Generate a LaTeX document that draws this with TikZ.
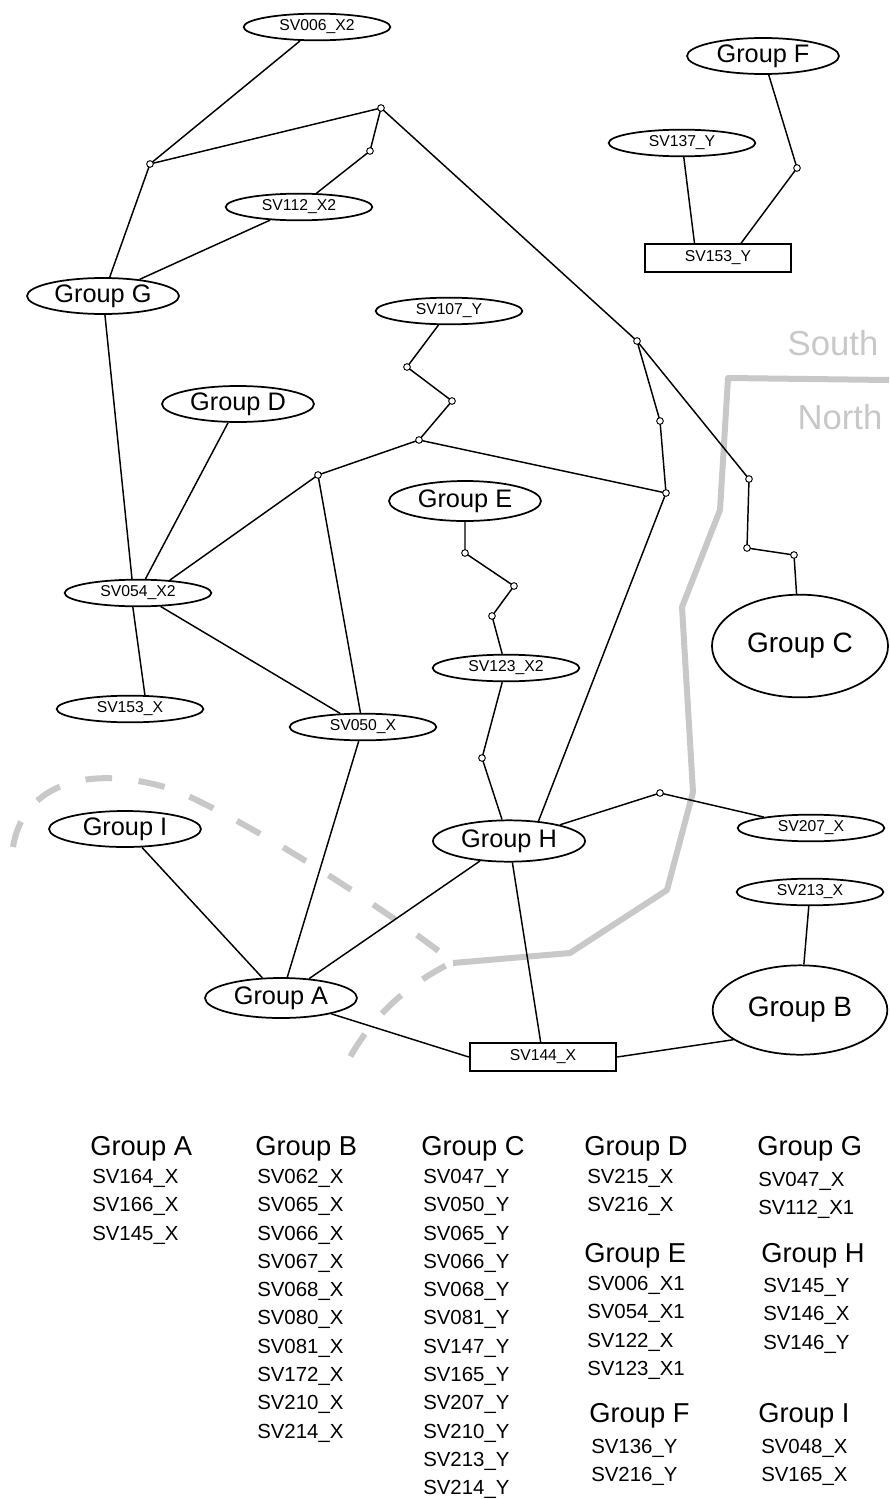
\documentclass[tikz,border=0pt]{standalone}
\usepackage{fontspec}
\setmainfont{Liberation Sans}
\usetikzlibrary{shapes.geometric}

\definecolor{regiongrey}{RGB}{200,200,200}

\begin{document}
\begin{tikzpicture}[
  x=0.75pt, y=-0.75pt,
  sv/.style = {ellipse, draw, line width=1.3pt, minimum width=110pt, minimum height=20pt,
               inner sep=0pt, font=\fontsize{11.8}{13}\selectfont},
  svbox/.style = {rectangle, draw, line width=1.3pt, minimum width=110pt, minimum height=21pt,
                  inner sep=0pt, font=\fontsize{11.8}{13}\selectfont},
  grp/.style = {ellipse, draw, line width=1.3pt, minimum width=114pt, minimum height=27pt,
                inner sep=0pt, font=\fontsize{19}{21}\selectfont},
  biggrp/.style = {grp, font=\fontsize{21}{23}\selectfont},
  link/.style = {line width=1.1pt},
  bendmark/.style = {draw, fill=white, line width=0.7pt},
  region/.style = {line width=4.5pt, regiongrey, line join=round},
  sidelabel/.style = {text=regiongrey, font=\fontsize{26}{28}\selectfont},
  listhead/.style = {anchor=base west, inner sep=0pt, font=\fontsize{20.5}{22}\selectfont},
  listitem/.style = {anchor=base west, inner sep=0pt, font=\fontsize{15.3}{17}\selectfont}
]
  \useasboundingbox (0,0) rectangle (889,1499);

  % north / south border
  \draw[region] (889,380) -- (728,378) -- (720,510) -- (682,607) -- (693,792)
    -- (667,890) -- (570,953) -- (453,963);
  \draw[region, dash pattern=on 20pt off 20pt] (13,847) .. controls (22,790) and (80,760) .. (175,790)
    .. controls (255,825) and (380,905) .. (453,962)
    .. controls (420,978) and (370,1010) .. (340,1077);
  \node[sidelabel] (south) at (833,343) {South};
  \node[sidelabel] (north) at (840,417) {North};

  % nodes
  \node[sv] (sv006) at (317,27) {SV006\_X2};
  \node[sv] (sv112) at (299,207) {SV112\_X2};
  \node[grp] (gG) at (103,296) {Group G};
  \node[grp] (gF) at (763,56) {Group F};
  \node[sv] (sv137) at (682,143) {SV137\_Y};
  \node[svbox] (sv153y) at (718,258) {SV153\_Y};
  \node[sv] (sv107) at (449,311) {SV107\_Y};
  \node[grp] (gD) at (238,404) {Group D};
  \node[grp, minimum height=30pt] (gE) at (465,501) {Group E};
  \node[biggrp, minimum width=132pt, minimum height=77pt] (gC) at (800,646) {Group C};
  \node[sv] (sv054) at (138,593) {SV054\_X2};
  \node[sv] (sv123) at (506,668) {SV123\_X2};
  \node[sv] (sv153x) at (130,709) {SV153\_X};
  \node[sv] (sv050) at (363,727) {SV050\_X};
  \node[sv] (sv207) at (811,828) {SV207\_X};
  \node[grp] (gI) at (125,829) {Group I};
  \node[grp, minimum height=31pt] (gH) at (509,841) {Group H};
  \node[sv] (sv213) at (810,892) {SV213\_X};
  \node[grp, minimum height=30pt] (gA) at (281,998) {Group A};
  \node[biggrp, minimum width=131pt, minimum height=67pt] (gB) at (800,1010) {Group B};
  \node[svbox] (sv144) at (543,1057) {SV144\_X};

  % bends
  \coordinate (j1) at (150,164);
  \coordinate (j2) at (381,108);
  \coordinate (j3) at (370,151);
  \coordinate (j4) at (637,341);
  \coordinate (j5) at (660,421);
  \coordinate (j6) at (666,493);
  \coordinate (j7) at (749,479);
  \coordinate (j8) at (747,548);
  \coordinate (j9) at (794,555);
  \coordinate (j10) at (318,475);
  \coordinate (j11) at (419,440);
  \coordinate (j12) at (452,401);
  \coordinate (j13) at (407,367);
  \coordinate (jE1) at (465,553);
  \coordinate (jE2) at (514,586);
  \coordinate (jE3) at (492,616);
  \coordinate (jH1) at (482,758);
  \coordinate (jH2) at (660,793);
  \coordinate (jF) at (797,168);

  % links
  \draw[link] (sv006) -- (j1) -- (gG);
  \draw[link] (j1) -- (j2) -- (j3) -- (sv112) -- (gG);
  \draw[link] (j2) -- (j4) -- (j5) -- (j6) -- (gH.34);
  \draw[link] (j4) -- (j7) -- (j8) -- (j9) -- (gC);
  \draw[link] (gF) -- (jF) -- ([xshift=73pt]sv153y.north west);
  \draw[link] (sv137) -- ([xshift=38pt]sv153y.north west);
  \draw[link] (gG) -- (sv054.113);
  \draw[link] (sv054.250) -- (sv153x.43);
  \draw[link] (gD) -- (sv054);
  \draw[link] (sv054.22) -- (j10) -- (j11) -- (j12) -- (j13) -- (sv107);
  \draw[link] (j11) -- (j6);
  \draw[link] (j10) -- (sv050);
  \draw[link] (sv054) -- (sv050);
  \draw[link] (sv050) -- (gA);
  \draw[link] (gE) -- (jE1) -- (jE2) -- (jE3) -- (sv123) -- (jH1) -- (gH);
  \draw[link] (gH) -- (jH2) -- (sv207);
  \draw[link] (gH) -- (sv144);
  \draw[link] (gH) -- (gA);
  \draw[link] (gI) -- (gA);
  \draw[link] (gA) -- (sv144.west);
  \draw[link] (sv144.east) -- (gB.204);
  \draw[link] (sv213) -- (gB);

  \foreach \j in {j1,j2,j3,j4,j5,j6,j7,j8,j9,j10,j11,j12,j13,jE1,jE2,jE3,jH1,jH2,jF}
    \draw[bendmark] (\j) circle (2.5pt);

  % group lists
  \node[listhead] (hA) at (90,1155) {Group A};
  \foreach \sv [count=\i] in {SV164\_X,SV166\_X,SV145\_X}
    \node[listitem] (a\i) at (92,1155+28.33*\i) {\sv};

  \node[listhead] (hB) at (255,1155) {Group B};
  \foreach \sv [count=\i] in {SV062\_X,SV065\_X,SV066\_X,SV067\_X,SV068\_X,
                              SV080\_X,SV081\_X,SV172\_X,SV210\_X,SV214\_X}
    \node[listitem] (b\i) at (257,1155+28.33*\i) {\sv};

  \node[listhead] (hC) at (421,1155) {Group C};
  \foreach \sv [count=\i] in {SV047\_Y,SV050\_Y,SV065\_Y,SV066\_Y,SV068\_Y,SV081\_Y,
                              SV147\_Y,SV165\_Y,SV207\_Y,SV210\_Y,SV213\_Y,SV214\_Y}
    \node[listitem] (c\i) at (423,1155+28.33*\i) {\sv};

  \node[listhead] (hD) at (584,1155) {Group D};
  \foreach \sv [count=\i] in {SV215\_X,SV216\_X}
    \node[listitem] (d\i) at (587,1155+28.33*\i) {\sv};

  \node[listhead] (hE) at (584,1262) {Group E};
  \foreach \sv [count=\i] in {SV006\_X1,SV054\_X1,SV122\_X,SV123\_X1}
    \node[listitem] (e\i) at (587,1262+28.33*\i) {\sv};

  \node[listhead] (hF) at (589,1422) {Group F};
  \foreach \sv [count=\i] in {SV136\_Y,SV216\_Y}
    \node[listitem] (f\i) at (591,1425+28.33*\i) {\sv};

  \node[listhead] (hG) at (757,1155) {Group G};
  \foreach \sv [count=\i] in {SV047\_X,SV112\_X1}
    \node[listitem] (g\i) at (758,1158+28.33*\i) {\sv};

  \node[listhead] (hH) at (761,1262) {Group H};
  \foreach \sv [count=\i] in {SV145\_Y,SV146\_X,SV146\_Y}
    \node[listitem] (h\i) at (763,1264+28.33*\i) {\sv};

  \node[listhead] (hI) at (758,1422) {Group I};
  \foreach \sv [count=\i] in {SV048\_X,SV165\_X}
    \node[listitem] (i\i) at (761,1425+28.33*\i) {\sv};
\end{tikzpicture}
\end{document}
